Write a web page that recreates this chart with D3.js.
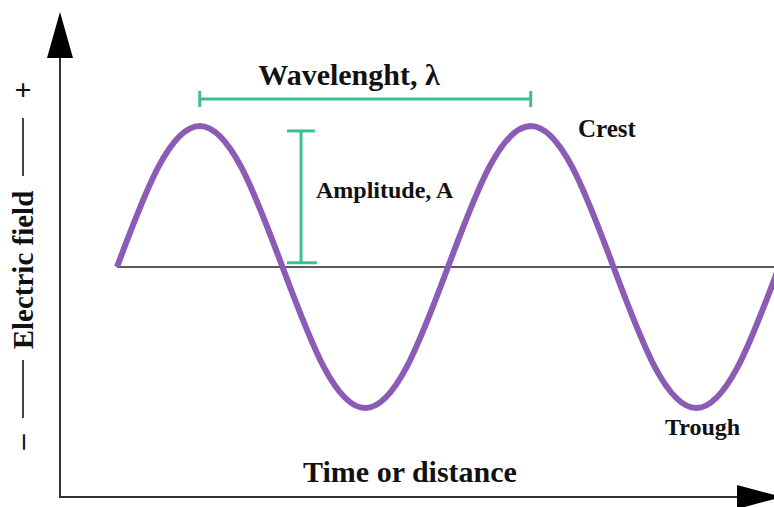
<!DOCTYPE html>
<html>
<head>
<meta charset="utf-8">
<script src="https://cdn.jsdelivr.net/npm/d3@7/dist/d3.min.js"></script>
<style>
  html, body { margin: 0; padding: 0; background: #fff; }
  svg { display: block; }
  text { font-family: "Liberation Serif", "Times New Roman", serif; font-weight: bold; fill: #111; }
</style>
</head>
<body>
<svg id="chart" width="774" height="507"></svg>
<script>
// ---- data (phase in wavelengths, field in units of amplitude) ----
const wavePhase = [0, 0.125, 0.25, 0.375, 0.5, 0.625, 0.75, 0.875, 1.0,
                   1.125, 1.25, 1.375, 1.5, 1.625, 1.75, 1.875, 2.0];
const waveValue = [0, 0.71, 1, 0.71, 0, -0.71, -1, -0.71, 0,
                   0.71, 1, 0.71, 0, -0.71, -1, -0.71, 0];
const wavelengthSpan = [0.25, 1.25];      // crest to crest
const amplitudeSpan = [0.03, 0.965];      // baseline to crest
const amplitudePhase = 0.556;
const labels = {
  wavelength: "Wavelenght, λ",
  amplitude: "Amplitude, A",
  crest: "Crest",
  trough: "Trough",
  xTitle: "Time or distance",
  yTitle: "Electric field"
};

const svg = d3.select("#chart");
const x = d3.scaleLinear().domain([0, 2]).range([117, 779]);
const y = d3.scaleLinear().domain([-1, 1]).range([408, 126]);

const purple = "#8a5cb6";
const green = "#3fbf90";
const axisCol = "#333";

// axes
svg.append("line").attr("x1", 60).attr("x2", 60).attr("y1", 50).attr("y2", 498)
  .attr("stroke", axisCol).attr("stroke-width", 2);
svg.append("path").attr("d", "M60,12 L47,58 L73,58 Z").attr("fill", "#000");
svg.append("line").attr("x1", 59).attr("x2", 745).attr("y1", 497).attr("y2", 497)
  .attr("stroke", axisCol).attr("stroke-width", 2);
svg.append("path").attr("d", "M737,485 L782,497 L737,509 Z").attr("fill", "#000");

// baseline
svg.append("line").attr("x1", x(0)).attr("x2", 774).attr("y1", y(0)).attr("y2", y(0))
  .attr("stroke", "#5a5a5a").attr("stroke-width", 2);

// wave
const pts = wavePhase.map((p, i) => [p, waveValue[i]]);
svg.append("path").datum(pts)
  .attr("d", d3.line().x(d => x(d[0])).y(d => y(d[1])).curve(d3.curveNatural))
  .attr("fill", "none").attr("stroke", purple).attr("stroke-width", 6)
  .attr("stroke-linecap", "butt");

// wavelength bracket
const wy = 99;
const wg = svg.append("g").attr("stroke", green).attr("stroke-width", 3);
wg.append("line").attr("x1", x(wavelengthSpan[0])).attr("x2", x(wavelengthSpan[1])).attr("y1", wy).attr("y2", wy);
wg.append("line").attr("x1", x(wavelengthSpan[0])).attr("x2", x(wavelengthSpan[0])).attr("y1", wy - 8).attr("y2", wy + 8);
wg.append("line").attr("x1", x(wavelengthSpan[1])).attr("x2", x(wavelengthSpan[1])).attr("y1", wy - 8).attr("y2", wy + 8);
svg.append("text").attr("x", 349).attr("y", 85).attr("text-anchor", "middle")
  .attr("font-size", 30).text(labels.wavelength);

// amplitude bar
const ax = x(amplitudePhase);
const ag = svg.append("g").attr("stroke", green).attr("stroke-width", 3);
ag.append("line").attr("x1", ax).attr("x2", ax).attr("y1", y(amplitudeSpan[0])).attr("y2", y(amplitudeSpan[1]));
ag.append("line").attr("x1", ax - 14).attr("x2", ax + 14).attr("y1", y(amplitudeSpan[1])).attr("y2", y(amplitudeSpan[1]));
ag.append("line").attr("x1", ax - 14).attr("x2", ax + 16).attr("y1", y(amplitudeSpan[0])).attr("y2", y(amplitudeSpan[0]));
svg.append("text").attr("x", 316).attr("y", 198).attr("font-size", 24).text(labels.amplitude);

// crest / trough labels
svg.append("text").attr("x", 578).attr("y", 137).attr("font-size", 25).text(labels.crest);
svg.append("text").attr("x", 665).attr("y", 435).attr("font-size", 24).text(labels.trough);

// x title
svg.append("text").attr("x", 410).attr("y", 482).attr("text-anchor", "middle")
  .attr("font-size", 30).text(labels.xTitle);

// y title with +/- markers
svg.append("text").attr("transform", "translate(33,270) rotate(-90)")
  .attr("text-anchor", "middle").attr("font-size", 29).text(labels.yTitle);
svg.append("text").attr("x", 23).attr("y", 100).attr("text-anchor", "middle")
  .attr("font-size", 30).attr("font-weight", "normal").text("+");
svg.append("text").attr("transform", "translate(31,442) rotate(-90)")
  .attr("text-anchor", "middle").attr("font-size", 30).attr("font-weight", "normal").text("–");
const dg = svg.append("g").attr("stroke", "#444").attr("stroke-width", 2);
dg.append("line").attr("x1", 23).attr("x2", 23).attr("y1", 118).attr("y2", 176);
dg.append("line").attr("x1", 23).attr("x2", 23).attr("y1", 360).attr("y2", 418);
</script>
</body>
</html>
